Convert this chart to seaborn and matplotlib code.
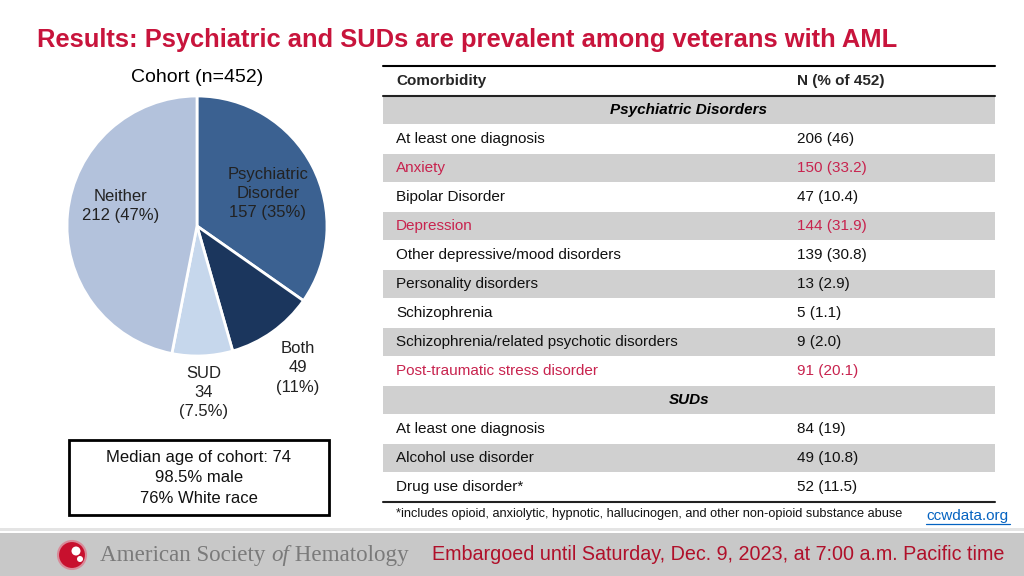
import matplotlib
matplotlib.use("Agg")
import numpy as np
import matplotlib.pyplot as plt
import seaborn as sns
from matplotlib.patches import Rectangle, Circle

# ---- data ----
cohort_labels = ["Psychiatric\nDisorder", "Both", "SUD", "Neither"]
cohort_counts = [157, 49, 34, 212]
cohort_pcts = ["35%", "11%", "7.5%", "47%"]

psych_names = ["At least one diagnosis", "Anxiety", "Bipolar Disorder", "Depression",
               "Other depressive/mood disorders", "Personality disorders", "Schizophrenia",
               "Schizophrenia/related psychotic disorders", "Post-traumatic stress disorder"]
psych_values = ["206 (46)", "150 (33.2)", "47 (10.4)", "144 (31.9)", "139 (30.8)",
                "13 (2.9)", "5 (1.1)", "9 (2.0)", "91 (20.1)"]
psych_highlight = [False, True, False, True, False, False, False, False, True]

sud_names = ["At least one diagnosis", "Alcohol use disorder", "Drug use disorder*"]
sud_values = ["84 (19)", "49 (10.8)", "52 (11.5)"]

cohort_note = ["Median age of cohort: 74", "98.5% male", "76% White race"]
footnote = "*includes opioid, anxiolytic, hypnotic, hallucinogen, and other non-opioid substance abuse"

# ---- style ----
sns.set_theme(style="white")
plt.rcParams["font.family"] = ["Liberation Sans", "DejaVu Sans"]

RED = "#C8143C"
ROW_RED = "#C8234E"
GRAY = "#D0D0D0"
pie_colors = sns.color_palette(["#3B6191", "#1B365D", "#C6D7EC", "#B3C2DC"])

fig = plt.figure(figsize=(10.24, 5.76), dpi=100)
ax = fig.add_axes([0, 0, 1, 1])
ax.set_xlim(0, 1024)
ax.set_ylim(576, 0)
ax.axis("off")

# title
ax.text(37, 40, "Results: Psychiatric and SUDs are prevalent among veterans with AML",
        color=RED, fontsize=18.4, fontweight="bold", va="center", ha="left")

# ---- pie ----
pax = fig.add_axes([(197 - 130) / 1024, 1 - (226 + 130) / 576, 260 / 1024, 260 / 576])
wedges, _ = pax.pie(cohort_counts, colors=pie_colors, startangle=90, counterclock=False,
                    wedgeprops=dict(edgecolor="white", linewidth=2))
pax.set_xlim(-1, 1)
pax.set_ylim(-1, 1)
pax.set_aspect("equal")
pax.axis("off")

label_dist = [0.60, 1.34, 1.28, 0.61]
label_nudge = [-3, 0, 0, -9]
for w, lab, n, p, d, nd in zip(wedges, cohort_labels, cohort_counts, cohort_pcts,
                               label_dist, label_nudge):
    ang = np.deg2rad((w.theta1 + w.theta2) / 2 + nd)
    if lab in ("Both", "SUD"):
        txt = f"{lab}\n{n}\n({p})"
    else:
        txt = f"{lab}\n{n} ({p})"
    pax.text(d * np.cos(ang), d * np.sin(ang), txt, ha="center", va="center",
             fontsize=12, color="#222222", linespacing=1.35)

ax.text(197, 77, "Cohort (n=452)", fontsize=14, ha="center", va="center", color="black")

# cohort note box
ax.add_patch(Rectangle((69, 440), 260, 75, fill=False, edgecolor="black", linewidth=2))
ax.text(199, 478, "\n".join(cohort_note), ha="center", va="center", fontsize=12,
        color="#111111", linespacing=1.42)

# ---- table ----
x0, x1 = 383, 995
col1, col2 = 396, 797
row_h = 29
first_center = 110

ax.plot([x0, x1], [66, 66], color="black", linewidth=1.5)
ax.text(col1, 81, "Comorbidity", fontsize=11, fontweight="bold", va="center")
ax.text(col2, 81, "N (% of 452)", fontsize=11, fontweight="bold", va="center")
ax.plot([x0, x1], [95.5, 95.5], color="#222222", linewidth=1.5)

rows = [("Psychiatric Disorders", None, None, True)]
rows += [(nm, v, hl, False) for nm, v, hl in zip(psych_names, psych_values, psych_highlight)]
rows += [("SUDs", None, None, True)]
rows += [(nm, v, False, False) for nm, v in zip(sud_names, sud_values)]

for i, (name, val, hl, is_section) in enumerate(rows):
    yc = first_center + i * row_h
    if i % 2 == 0:
        ax.add_patch(Rectangle((x0, yc - row_h / 2 + 0.5), x1 - x0, row_h - 1,
                               facecolor=GRAY, edgecolor="none"))
    if is_section:
        ax.text((x0 + x1) / 2, yc, name, fontsize=11, fontweight="bold",
                fontstyle="italic", ha="center", va="center", color="black")
    else:
        c = ROW_RED if hl else "#111111"
        ax.text(col1, yc, name, fontsize=11, va="center", color=c)
        ax.text(col2, yc, val, fontsize=11, va="center", color=c)

bottom = first_center + (len(rows) - 1) * row_h + row_h / 2
ax.plot([x0, x1], [bottom, bottom], color="#222222", linewidth=1.5)

ax.text(col1, 514, footnote, fontsize=9.2, va="center", color="#111111")
ax.text(926, 516, "ccwdata.org", fontsize=11, va="center", color="#0563C1")
ax.plot([926, 1010], [524, 524], color="#0563C1", linewidth=0.9)

# ---- footer ----
ax.add_patch(Rectangle((0, 528), 1024, 3, facecolor="#E4E4E4", edgecolor="none"))
ax.add_patch(Rectangle((0, 533), 1024, 43, facecolor="#C8C8C8", edgecolor="none"))
ax.add_patch(Circle((72, 555), 14, facecolor="#C8102E", edgecolor="#D88A98", linewidth=1.5))
ax.add_patch(Circle((76, 551), 4.5, facecolor="white", edgecolor="none"))
ax.add_patch(Circle((80, 559), 3, facecolor="white", edgecolor="none"))

renderer = fig.canvas.get_renderer()
xpos = 100
for part, style in [("American Society ", "normal"), ("of", "italic"), (" Hematology", "normal")]:
    t = ax.text(xpos, 556, part, fontsize=16.6, family=["Liberation Serif"], fontstyle=style,
                color="#7A7A7A", va="center")
    bb = t.get_window_extent(renderer)
    xpos += bb.width
ax.text(432, 555, "Embargoed until Saturday, Dec. 9, 2023, at 7:00 a.m. Pacific time",
        fontsize=14.2, color="#B0102A", va="center")

fig.savefig("out.png", dpi=100)
